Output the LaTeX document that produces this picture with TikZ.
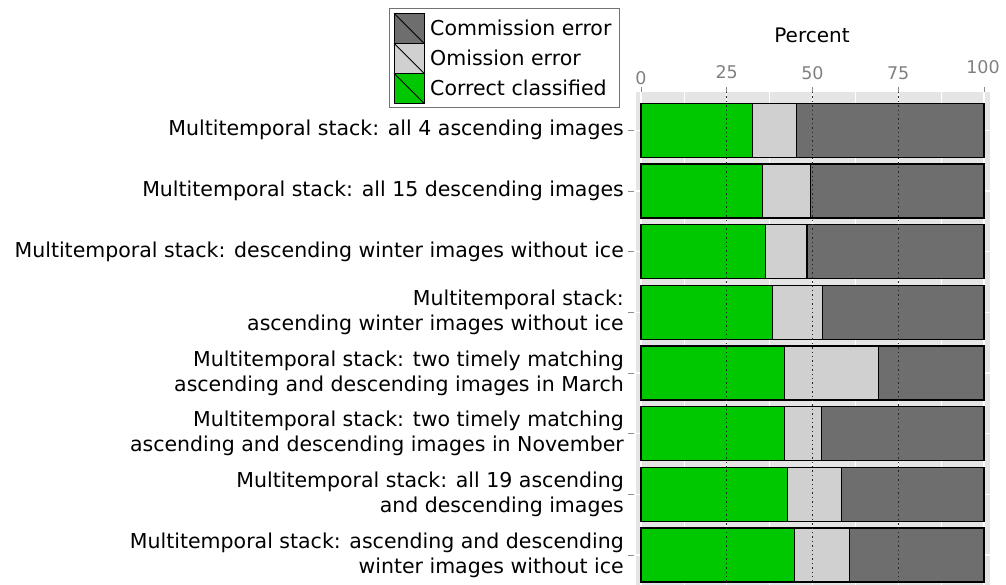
\documentclass[tikz,border=0pt]{standalone}
\usepackage{fontspec}
\setmainfont{DejaVu Sans}
\usepackage{tikz}
\definecolor{balkengruen}{RGB}{0, 200, 0}
\definecolor{balkenhell}{RGB}{208, 208, 208}
\definecolor{balkendunkel}{RGB}{110, 110, 110}
\definecolor{panelgrau}{RGB}{229, 229, 229}
\usetikzlibrary{positioning}

\begin{document}
\begin{tikzpicture}[x=1pt, y=-1pt,
			>=latex,
			font=\fontsize{20.5}{25}\selectfont,
			balken/.style={draw=black, line width=1.1pt},
			schluessel/.style={draw=black, line width=1pt, minimum size=30pt, inner sep=0pt, outer sep=0pt},
			beschriftung/.style={anchor=east, align=right, inner sep=0pt},
			zahl/.style={text=black!50, inner sep=0pt, font=\fontsize{17.5}{20}\selectfont}]
			\useasboundingbox (0,0) rectangle (1006,585);
			%Panel zeichnen
			\fill[panelgrau] (636,92) rectangle (990,585);
			%Raster zeichnen
			\foreach \p in {12.5,37.5,62.5,87.5} \draw[white, line width=0.6pt] ({641+3.43*\p},92) -- ({641+3.43*\p},585);
			\foreach \p in {0,25,50,75,100} \draw[white, line width=1.3pt] ({641+3.43*\p},92) -- ({641+3.43*\p},585);
			\foreach \i in {1,...,8} \draw[white, line width=1.3pt] (636,{130.3+60.67*(\i-1)}) -- (990,{130.3+60.67*(\i-1)});
			%Balken zeichnen
			\foreach \i/\g/\o in {1/32.6/45.4, 2/35.5/49.4, 3/36.3/48.4, 4/38.3/52.8,
				5/41.9/69.2, 6/41.9/52.6, 7/42.7/58.4, 8/44.7/60.9} {
				\pgfmathsetmacro{\yo}{130.3+60.67*(\i-1)-27}
				\pgfmathsetmacro{\yu}{130.3+60.67*(\i-1)+27}
				\draw[balken, fill=balkendunkel] ({641+3.43*\o},\yo) rectangle (984,\yu);
				\draw[balken, fill=balkenhell] ({641+3.43*\g},\yo) rectangle ({641+3.43*\o},\yu);
				\draw[balken, fill=balkengruen] (641,\yo) rectangle ({641+3.43*\g},\yu);
			}
			%Hilfslinien
			\foreach \p in {25,50,75} \draw[black!85, line width=1.4pt, dash pattern=on 1.4pt off 3pt] ({641+3.43*\p},92) -- ({641+3.43*\p},585);
			%Achse beschriften
			\foreach \p in {0,25,50,75,100} \draw[black!45, line width=0.8pt] ({641+3.43*\p},87) -- ({641+3.43*\p},92);
			\node[zahl] (t0) at (641,78) {0};
			\node[zahl] (t25) at (726.7,72.5) {25};
			\node[zahl] (t50) at (812.4,73) {50};
			\node[zahl] (t75) at (898.2,73) {75};
			\node[zahl] (t100) at (983,67) {100};
			\node[inner sep=0pt, font=\fontsize{20}{24}\selectfont] (titel) at (812,35) {Percent};
			%Kategorien
			\foreach \i in {1,...,8} \draw[black!45, line width=0.8pt] (628,{130.3+60.67*(\i-1)}) -- (634,{130.3+60.67*(\i-1)});
			\node[beschriftung] (k1) at (624,130.3) {Multitemporal stack: all 4 ascending images};
			\node[beschriftung] (k2) at (624,191) {Multitemporal stack: all 15 descending images};
			\node[beschriftung] (k3) at (624,251.6) {Multitemporal stack: descending winter images without ice};
			\node[beschriftung] (k4) at (624,312.3) {Multitemporal stack:\\ascending winter images without ice};
			\node[beschriftung] (k5) at (624,373) {Multitemporal stack: two timely matching\\ascending and descending images in March};
			\node[beschriftung] (k6) at (624,433.6) {Multitemporal stack: two timely matching\\ascending and descending images in November};
			\node[beschriftung] (k7) at (624,494.3) {Multitemporal stack: all 19 ascending\\and descending images};
			\node[beschriftung] (k8) at (624,555) {Multitemporal stack: ascending and descending\\winter images without ice};
			%Legende
			\draw[black!55, line width=0.9pt, fill=white] (389,8) rectangle (619,107);
			\node[schluessel, fill=balkendunkel] (s1) at (409,28.3) {};
			\node[schluessel, fill=balkenhell, below=0pt of s1] (s2) {};
			\node[schluessel, fill=balkengruen, below=0pt of s2] (s3) {};
			\foreach \s in {s1,s2,s3} \draw[black, line width=1pt] (\s.north west) -- (\s.south east);
			\node[right=6pt of s1, inner sep=0pt] (l1) {Commission error};
			\node[right=6pt of s2, inner sep=0pt] (l2) {Omission error};
			\node[right=6pt of s3, inner sep=0pt] (l3) {Correct classified};
		\end{tikzpicture}
\end{document}
